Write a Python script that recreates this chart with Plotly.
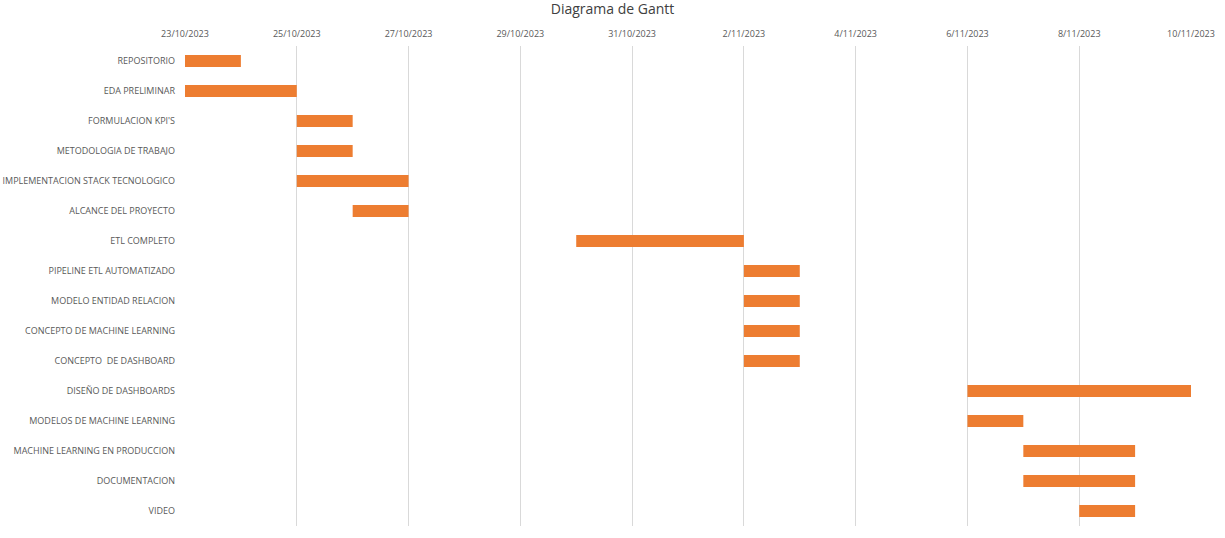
import plotly.graph_objects as go

tasks = ["REPOSITORIO", "EDA PRELIMINAR", "FORMULACION KPI'S", "METODOLOGIA DE TRABAJO",
         "IMPLEMENTACION STACK TECNOLOGICO", "ALCANCE DEL PROYECTO", "ETL COMPLETO",
         "PIPELINE ETL AUTOMATIZADO", "MODELO ENTIDAD RELACION", "CONCEPTO DE MACHINE LEARNING",
         "CONCEPTO  DE DASHBOARD", "DISEÑO DE DASHBOARDS", "MODELOS DE MACHINE LEARNING",
         "MACHINE LEARNING EN PRODUCCION", "DOCUMENTACION", "VIDEO"]
starts = ["2023-10-23", "2023-10-23", "2023-10-25", "2023-10-25", "2023-10-25", "2023-10-26",
          "2023-10-30", "2023-11-02", "2023-11-02", "2023-11-02", "2023-11-02", "2023-11-06",
          "2023-11-06", "2023-11-07", "2023-11-07", "2023-11-08"]
durations_days = [1, 2, 1, 1, 2, 1, 3, 1, 1, 1, 1, 4, 1, 2, 2, 1]

tick_vals = ["2023-10-23", "2023-10-25", "2023-10-27", "2023-10-29", "2023-10-31",
             "2023-11-02", "2023-11-04", "2023-11-06", "2023-11-08", "2023-11-10"]
tick_text = ["23/10/2023", "25/10/2023", "27/10/2023", "29/10/2023", "31/10/2023",
             "2/11/2023", "4/11/2023", "6/11/2023", "8/11/2023", "10/11/2023"]

ms_per_day = 86400000
fig = go.Figure(go.Bar(
    y=tasks,
    x=[d * ms_per_day for d in durations_days],
    base=starts,
    orientation="h",
    marker=dict(color="#ED7D31", line=dict(width=0)),
    width=0.4,
))

fig.update_layout(
    width=1225, height=538,
    margin=dict(l=185, r=34, t=46, b=12, autoexpand=False),
    paper_bgcolor="white", plot_bgcolor="white",
    title=dict(text="Diagrama de Gantt", x=0.5, xref="container", xanchor="center",
               y=0.992, yref="container", yanchor="top",
               font=dict(family="Open Sans, Liberation Sans", size=14, color="#404040")),
    font=dict(family="Open Sans, Liberation Sans", size=9, color="#595959"),
    showlegend=False,
)
fig.update_xaxes(
    type="date", side="top", range=["2023-10-23", "2023-11-10"],
    tickvals=tick_vals, ticktext=tick_text,
    showgrid=True, gridcolor="#D9D9D9", gridwidth=1,
    zeroline=False, showline=False, ticks="", ticklabelstandoff=6,
    tickfont=dict(size=9, color="#595959"),
)
fig.update_yaxes(
    autorange="reversed", categoryorder="array", categoryarray=tasks,
    showgrid=False, zeroline=False, showline=False, ticks="", ticklabelstandoff=9,
    tickfont=dict(size=9, color="#595959"),
)

fig.write_html("out.html", config={"displayModeBar": False},
               post_script="document.body.style.margin='0';")
